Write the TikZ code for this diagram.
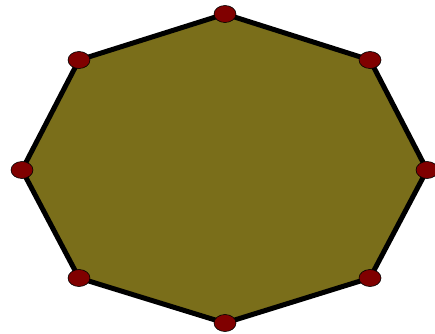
\documentclass[tikz,border=0pt]{standalone}
\definecolor{octolive}{RGB}{122,110,26}
\definecolor{octred}{RGB}{128,0,0}
\usepackage{xcolor}
\usepackage{tikz}
\usetikzlibrary{shapes.geometric}

\begin{document}
\begin{tikzpicture}[x=1pt,y=-1pt,
    vertex/.style={ellipse, fill=octred, draw=black, line width=0.6pt, minimum width=22pt, minimum height=17pt, inner sep=0pt}]
  \useasboundingbox (0,0) rectangle (435,333);
  \coordinate (v1) at (225,14);
  \coordinate (v2) at (370,60);
  \coordinate (v3) at (427,170);
  \coordinate (v4) at (370,278);
  \coordinate (v5) at (225,323);
  \coordinate (v6) at (79,278);
  \coordinate (v7) at (22,170);
  \coordinate (v8) at (79,60);
  \draw[fill=octolive, draw=black, line width=5pt, line join=miter] (v1) -- (v2) -- (v3) -- (v4) -- (v5) -- (v6) -- (v7) -- (v8) -- cycle;
  \foreach \i in {1,...,8}
    \node[vertex] (n\i) at (v\i) {};
\end{tikzpicture}
\end{document}
